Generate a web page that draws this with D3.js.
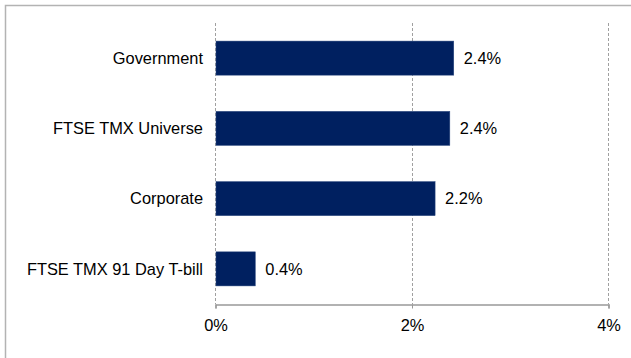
<!DOCTYPE html>
<html>
<head>
<meta charset="utf-8">
<script src="https://cdn.jsdelivr.net/npm/d3@7"></script>
<style>
  body { margin: 0; background: #fff; }
  svg text { font-family: "Liberation Sans", Arial, sans-serif; font-size: 16.4px; fill: #000; }
</style>
</head>
<body>
<svg id="chart" width="631" height="358"></svg>
<script>
// chart values
var categories = ['Government', 'FTSE TMX Universe', 'Corporate', 'FTSE TMX 91 Day T-bill'];
var returns = [2.42, 2.38, 2.23, 0.40];
var valueLabels = ['2.4%', '2.4%', '2.2%', '0.4%'];
var tickValues = [0, 2, 4];

var svg = d3.select('#chart');

// outer frame, only top and left edges fall inside the window
svg.append('rect')
    .attr('x', 5.5)
    .attr('y', 5.5)
    .attr('width', 640)
    .attr('height', 370)
    .attr('fill', 'none')
    .attr('stroke', '#b3b3b3')
    .attr('stroke-width', 1.5);

var margin = {left: 216, right: 22, top: 23, bottom: 54};
var width = 631 - margin.left - margin.right;
var height = 358 - margin.top - margin.bottom;

var g = svg.append('g')
    .attr('transform', 'translate(' + margin.left + ',' + margin.top + ')');

var x = d3.scaleLinear().domain([0, 4]).range([0, width]);
var y = d3.scaleBand().domain(categories).range([0, height])
    .paddingInner(0.515)
    .paddingOuter(0.2575);

// dashed vertical gridlines
g.selectAll('.grid')
    .data(tickValues)
  .enter().append('line')
    .attr('class', 'grid')
    .attr('x1', function(d) { return Math.round(x(d)) - 0.5; })
    .attr('x2', function(d) { return Math.round(x(d)) - 0.5; })
    .attr('y1', 0)
    .attr('y2', height)
    .attr('stroke', '#a0a0a0')
    .attr('stroke-dasharray', '3,2');

// bars
g.selectAll('.bar')
    .data(returns)
  .enter().append('rect')
    .attr('class', 'bar')
    .attr('x', x(0))
    .attr('y', function(d, i) { return y(categories[i]); })
    .attr('width', function(d) { return x(d) - x(0); })
    .attr('height', y.bandwidth())
    .attr('fill', '#002060')
    .attr('stroke', '#2c4a80')
    .attr('stroke-width', 0.5);

// value labels
g.selectAll('.value')
    .data(returns)
  .enter().append('text')
    .attr('class', 'value')
    .attr('x', function(d) { return x(d) + 10; })
    .attr('y', function(d, i) { return y(categories[i]) + y.bandwidth() / 2; })
    .attr('dy', '0.35em')
    .text(function(d, i) { return valueLabels[i]; });

// category labels
g.selectAll('.cat')
    .data(categories)
  .enter().append('text')
    .attr('class', 'cat')
    .attr('x', -13)
    .attr('y', function(d) { return y(d) + y.bandwidth() / 2; })
    .attr('dy', '0.35em')
    .attr('text-anchor', 'end')
    .text(function(d) { return d; });

// x axis
var xAxis = g.append('g')
    .attr('transform', 'translate(-0.5,' + (Math.round(height) + 0.5) + ')')
    .call(d3.axisBottom(x)
        .tickValues(tickValues)
        .tickSize(4)
        .tickPadding(11)
        .tickFormat(function(d) { return d + '%'; }));
xAxis.select('.domain').attr('stroke', '#999').attr('stroke-width', 1.5);
xAxis.selectAll('.tick line').attr('stroke', '#999');
xAxis.selectAll('.tick text')
    .style('font-family', '"Liberation Sans", Arial, sans-serif')
    .style('font-size', '16.4px')
    .attr('fill', '#000');
</script>
</body>
</html>
